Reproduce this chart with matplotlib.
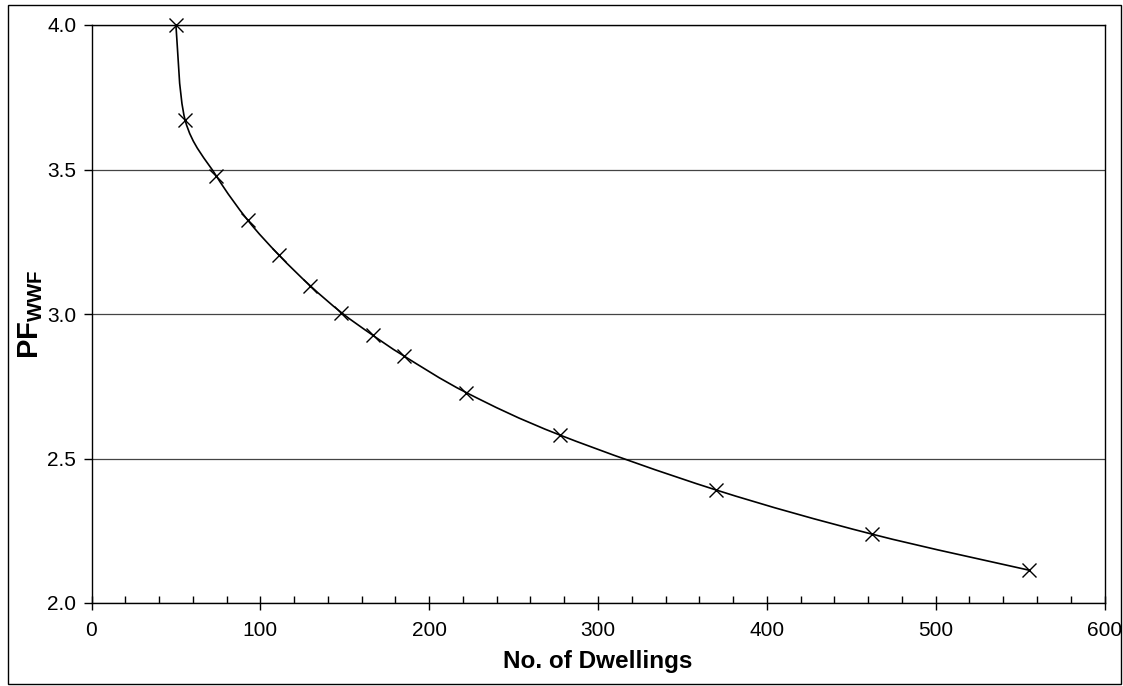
import numpy as np
import matplotlib
matplotlib.use('Agg')
import matplotlib.pyplot as plt
from matplotlib.path import Path
from matplotlib.patches import PathPatch, Rectangle

plt.rcParams['font.family'] = ['Liberation Sans', 'DejaVu Sans']
plt.rcParams['mathtext.fontset'] = 'custom'
plt.rcParams['mathtext.bf'] = 'Liberation Sans:bold'
plt.rcParams['mathtext.rm'] = 'Liberation Sans'

# values
dwellings = [50, 55.5, 74, 92.5, 111, 129.5, 148, 166.5, 185, 222, 277.5, 370, 462.5, 555]
pf_wwf = [4.0, 3.67, 3.477, 3.325, 3.204, 3.098, 3.005, 2.927, 2.855, 2.728, 2.581, 2.391, 2.238, 2.114]
x_ticks = [0, 100, 200, 300, 400, 500, 600]
y_ticks = [2.0, 2.5, 3.0, 3.5, 4.0]

W, H = 1123, 686
fig = plt.figure(figsize=(W / 100, H / 100), dpi=100)
ax = fig.add_axes([91.5 / W, 1 - 603 / H, (1104.5 - 91.5) / W, (603 - 25) / H])

# outer chart border
fig.patches.append(Rectangle((8 / W, 2 / H), (1121 - 8) / W, (681 - 2) / H,
                             transform=fig.transFigure, fill=False,
                             edgecolor='black', linewidth=1.0))


def smooth_path(xs, ys):
    # Excel-style smoothed line: cubic Bezier segments with Catmull-Rom controls
    pts = np.column_stack([xs, ys]).astype(float)
    n = len(pts)
    verts = [pts[0]]
    codes = [Path.MOVETO]
    for i in range(n - 1):
        p0 = pts[i - 1] if i > 0 else pts[i]
        p1 = pts[i]
        p2 = pts[i + 1]
        p3 = pts[i + 2] if i + 2 < n else pts[i + 1]
        c1 = p1 + (p2 - p0) / 6.0
        c2 = p2 - (p3 - p1) / 6.0
        verts += [c1, c2, p2]
        codes += [Path.CURVE4] * 3
    return Path(verts, codes)


ax.add_patch(PathPatch(smooth_path(dwellings, pf_wwf), fill=False,
                       edgecolor='black', linewidth=1.2, zorder=3))
ax.plot(dwellings, pf_wwf, linestyle='none', marker='x', markersize=10,
        markeredgewidth=1.0, color='black', zorder=4, clip_on=False)

ax.set_xlim(0, 600)
ax.set_ylim(2.0, 4.0)
ax.set_xticks(x_ticks)
ax.set_xticks(np.arange(0, 601, 20), minor=True)
ax.set_yticks(y_ticks)
ax.set_yticklabels(['%.1f' % v for v in y_ticks])

ax.grid(axis='y', color='#444444', linewidth=0.9)
ax.set_axisbelow(True)

ax.tick_params(axis='x', which='major', direction='inout', length=10, width=1,
               labelsize=15, pad=8)
ax.tick_params(axis='x', which='minor', direction='in', length=5, width=1)
ax.tick_params(axis='y', which='major', direction='out', length=6, width=1,
               labelsize=15, pad=5)
ax.tick_params(top=False, right=False)

for s in ax.spines.values():
    s.set_linewidth(1.0)
    s.set_color('black')

ax.set_xlabel('No. of Dwellings', fontsize=17.5, fontweight='bold')
ax.xaxis.set_label_coords(0.5, -0.081)
ax.set_ylabel(r'$\mathbf{PF_{WWF}}$', fontsize=21)
ax.yaxis.set_label_coords(-0.046, 0.5)

fig.savefig('out.png', dpi=100)
